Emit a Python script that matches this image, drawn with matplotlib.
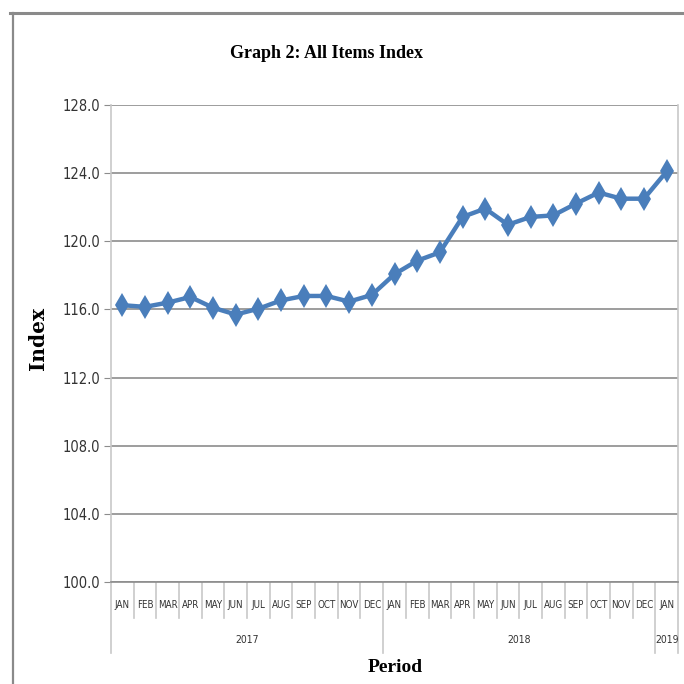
import matplotlib.pyplot as plt
from matplotlib.lines import Line2D
import matplotlib.transforms as mtransforms

# data
months = ["JAN", "FEB", "MAR", "APR", "MAY", "JUN", "JUL", "AUG", "SEP", "OCT", "NOV", "DEC",
          "JAN", "FEB", "MAR", "APR", "MAY", "JUN", "JUL", "AUG", "SEP", "OCT", "NOV", "DEC",
          "JAN"]
years = ["2017", "2018", "2019"]
year_counts = [12, 12, 1]
index_values = [116.25, 116.15, 116.40, 116.73, 116.10, 115.70, 116.04, 116.53, 116.79, 116.79,
                116.46, 116.85, 118.07, 118.86, 119.35, 121.43, 121.92, 120.97, 121.43, 121.52,
                122.21, 122.86, 122.50, 122.50, 124.10]
y_ticks = [100, 104, 108, 112, 116, 120, 124, 128]

line_col = "#4A7EBB"
grid_col = "#8C8C8C"
sep_col = "#C8C8C8"

fig = plt.figure(figsize=(6.84, 6.84), dpi=100)
ax = fig.add_axes([111 / 684, 1 - 582 / 684, 567 / 684, 477 / 684])

x = list(range(len(index_values)))
ax.plot(x, index_values, color=line_col, lw=3.2, marker="d", markersize=12,
        markeredgewidth=0, solid_joinstyle="round")

ax.set_xlim(-0.5, len(x) - 0.5)
ax.set_ylim(100, 128)
ax.set_yticks(y_ticks)
ax.set_yticklabels([f"{v:.1f}" for v in y_ticks], fontsize=10.5, fontstretch="condensed",
                   fontfamily="DejaVu Sans", color="#333333")
ax.tick_params(axis="y", length=5, color=grid_col, pad=3)
ax.set_xticks([])
ax.yaxis.grid(True, color=grid_col, lw=1.2)
ax.set_axisbelow(True)
for side in ["left", "right"]:
    ax.spines[side].set_color(sep_col)
    ax.spines[side].set_linewidth(1.2)
ax.spines["top"].set_visible(False)
ax.spines["bottom"].set_color(grid_col)
ax.spines["bottom"].set_linewidth(1.2)

# two-level category axis
trans = mtransforms.blended_transform_factory(ax.transData, ax.transAxes)
month_bot = -36 / 477
year_bot = -71 / 477
for i, m in enumerate(months):
    ax.text(i, -23 / 477, m, transform=trans, ha="center", va="center", fontsize=7,
            fontfamily="DejaVu Sans", fontstretch="condensed", color="#333333")
edges = [-0.5]
for c in year_counts:
    edges.append(edges[-1] + c)
for i in range(1, len(months)):
    xs = i - 0.5
    bot = year_bot if xs in edges else month_bot
    ax.add_line(Line2D([xs, xs], [0, bot], transform=trans, color=sep_col, lw=1.2, clip_on=False))
for xs in [edges[0], edges[-1]]:
    ax.add_line(Line2D([xs, xs], [0, year_bot], transform=trans, color=sep_col, lw=1.2, clip_on=False))
for k, yr in enumerate(years):
    ax.text((edges[k] + edges[k + 1]) / 2, -58 / 477, yr, transform=trans, ha="center",
            va="center", fontsize=7.5, fontfamily="DejaVu Sans", fontstretch="condensed",
            color="#333333")

fig.text(327 / 684, 1 - 53 / 684, "Graph 2: All Items Index", ha="center", va="center",
         fontsize=13, fontweight="bold", fontfamily="Liberation Serif")
fig.text(395 / 684, 1 - 668 / 684, "Period", ha="center", va="center",
         fontsize=14, fontweight="bold", fontfamily="Liberation Serif")
fig.text(38 / 684, 1 - 338 / 684, "Index", ha="center", va="center", rotation=90,
         fontsize=14.5, fontweight="bold", fontfamily="DejaVu Serif")

# outer chart frame
fig.add_artist(Line2D([10 / 684, 1], [1 - 12.5 / 684, 1 - 12.5 / 684], color="#8A8A8A", lw=2.2))
fig.add_artist(Line2D([12.5 / 684, 12.5 / 684], [0, 1 - 12.5 / 684], color="#8A8A8A", lw=1.6))

fig.savefig("out.png", dpi=100)
